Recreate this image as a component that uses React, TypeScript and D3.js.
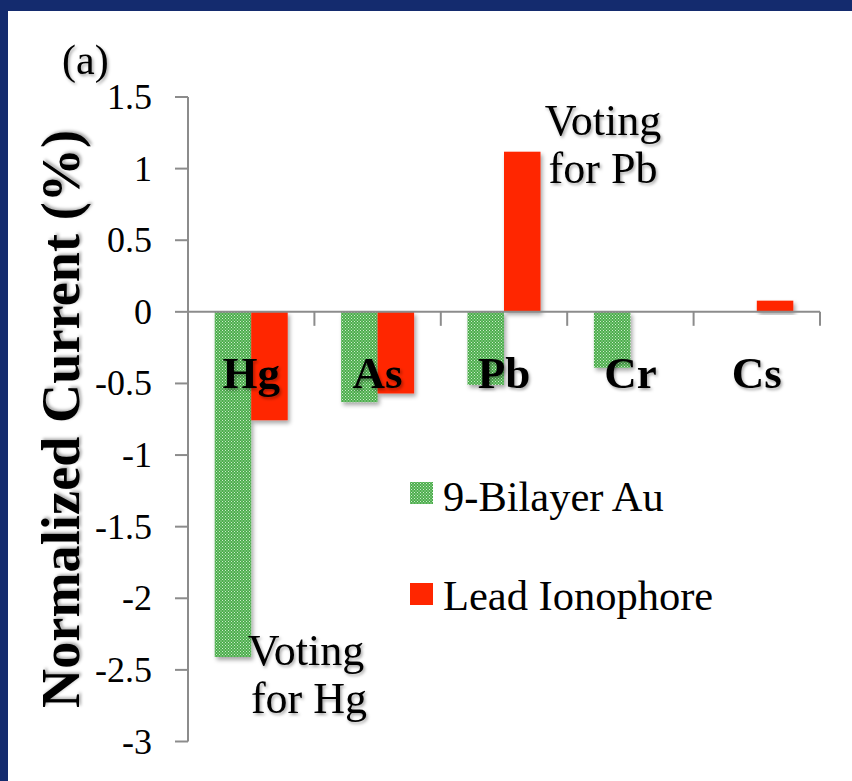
import React from "react";
import * as d3 from "d3";

const categories = ["Hg", "As", "Pb", "Cr", "Cs"];
const bilayerAu = [-2.41, -0.63, -0.51, -0.39, 0];
const leadIonophore = [-0.757, -0.57, 1.118, 0, 0.078];
const seriesNames = ["9-Bilayer Au", "Lead Ionophore"];
const yTicks = [1.5, 1, 0.5, 0, -0.5, -1, -1.5, -2, -2.5, -3];

const W = 852;
const H = 781;
const SERIF = "'Liberation Serif', 'DejaVu Serif', serif";

export default function App() {
  const x0 = 188, x1 = 820;
  const y = d3.scaleLinear().domain([-3, 1.5]).range([741.5, 97]);
  const pIn = 0.4225;
  const x = d3.scaleBand<string>().domain(categories).range([x0, x1]).paddingInner(pIn).paddingOuter(pIn / 2);
  const xs = d3.scaleBand<string>().domain(seriesNames).range([0, x.bandwidth()]);
  const step = x.step();
  const boundaries = d3.range(categories.length + 1).map((i) => x0 + i * step);
  const zero = y(0);
  const values = [bilayerAu, leadIonophore];
  const fills = ["url(#greenPat)", "#ff2600"];

  return (
    <svg width={W} height={H} style={{ position: "fixed", left: 0, top: 0 }} viewBox={`0 0 ${W} ${H}`}>
      <defs>
        <pattern id="greenPat" width="3" height="3" patternUnits="userSpaceOnUse">
          <rect width="3" height="3" fill="#4cad4c" />
          <rect x="0" y="0" width="1" height="1" fill="#cdeccd" />
          <rect x="1.5" y="1.5" width="1" height="1" fill="#cdeccd" />
        </pattern>
        <filter id="shadow" x="-20%" y="-20%" width="140%" height="140%">
          <feDropShadow dx="2" dy="3" stdDeviation="2" floodColor="#000" floodOpacity="0.35" />
        </filter>
        <filter id="tshadow" x="-10%" y="-10%" width="120%" height="130%">
          <feDropShadow dx="1.5" dy="2" stdDeviation="1.5" floodColor="#000" floodOpacity="0.35" />
        </filter>
      </defs>
      <rect x={0} y={0} width={W} height={H} fill="#142b6e" />
      <rect x={8} y={11} width={W - 8} height={H - 11} fill="#ffffff" />

      {/* bars */}
      {categories.map((c, i) =>
        seriesNames.map((s, j) => {
          const v = values[j][i];
          if (!v) return null;
          const bx = (x(c) as number) + (xs(s) as number);
          const top = Math.min(y(v), zero);
          const h = Math.abs(y(v) - zero);
          return (
            <rect key={c + s} x={bx} y={top} width={xs.bandwidth()} height={h} fill={fills[j]} filter="url(#shadow)" />
          );
        })
      )}

      {/* y axis */}
      <line x1={x0} x2={x0} y1={y(1.5)} y2={y(-3)} stroke="#8c8c8c" strokeWidth={2} />
      {yTicks.map((t) => (
        <g key={t}>
          <line x1={x0 - 13} x2={x0} y1={y(t)} y2={y(t)} stroke="#8c8c8c" strokeWidth={2} />
          <text x={152} y={y(t) + 12} textAnchor="end" fontFamily={SERIF} fontSize={36} fill="#000">
            {t}
          </text>
        </g>
      ))}

      {/* x axis at zero */}
      <line x1={x0} x2={x1} y1={zero} y2={zero} stroke="#8c8c8c" strokeWidth={2} />
      {boundaries.map((b, i) => (
        <line key={i} x1={b} x2={b} y1={zero} y2={zero + 14} stroke="#8c8c8c" strokeWidth={2} />
      ))}

      {/* category labels */}
      {categories.map((c) => (
        <text
          key={c}
          x={(x(c) as number) + x.bandwidth() / 2}
          y={388}
          textAnchor="middle"
          fontFamily={SERIF}
          fontWeight="bold"
          fontSize={45}
          fill="#000"
          filter="url(#tshadow)"
        >
          {c}
        </text>
      ))}

      {/* y title */}
      <text
        transform={`translate(79, 419) rotate(-90)`}
        textAnchor="middle"
        fontFamily={SERIF}
        fontWeight="bold"
        fontSize={54}
        textLength={578}
        lengthAdjust="spacing"
        fill="#000"
        filter="url(#tshadow)"
      >
        Normalized Current (%)
      </text>

      {/* (a) */}
      <text x={62} y={74} fontFamily={SERIF} fontSize={42} fill="#000" filter="url(#tshadow)">
        (a)
      </text>

      {/* annotations */}
      <g fontFamily={SERIF} fontSize={44} fill="#000" textAnchor="middle" filter="url(#tshadow)">
        <text x={603} y={135}>Voting</text>
        <text x={603} y={183}>for Pb</text>
        <text x={306} y={665}>Voting</text>
        <text x={309} y={713}>for Hg</text>
      </g>

      {/* legend */}
      {seriesNames.map((s, j) => (
        <g key={s}>
          <rect x={410} y={[482, 583][j]} width={23} height={22} fill={fills[j]} />
          <text x={443} y={[511, 610][j]} fontFamily={SERIF} fontSize={42.5} fill="#000">
            {s}
          </text>
        </g>
      ))}
    </svg>
  );
}
